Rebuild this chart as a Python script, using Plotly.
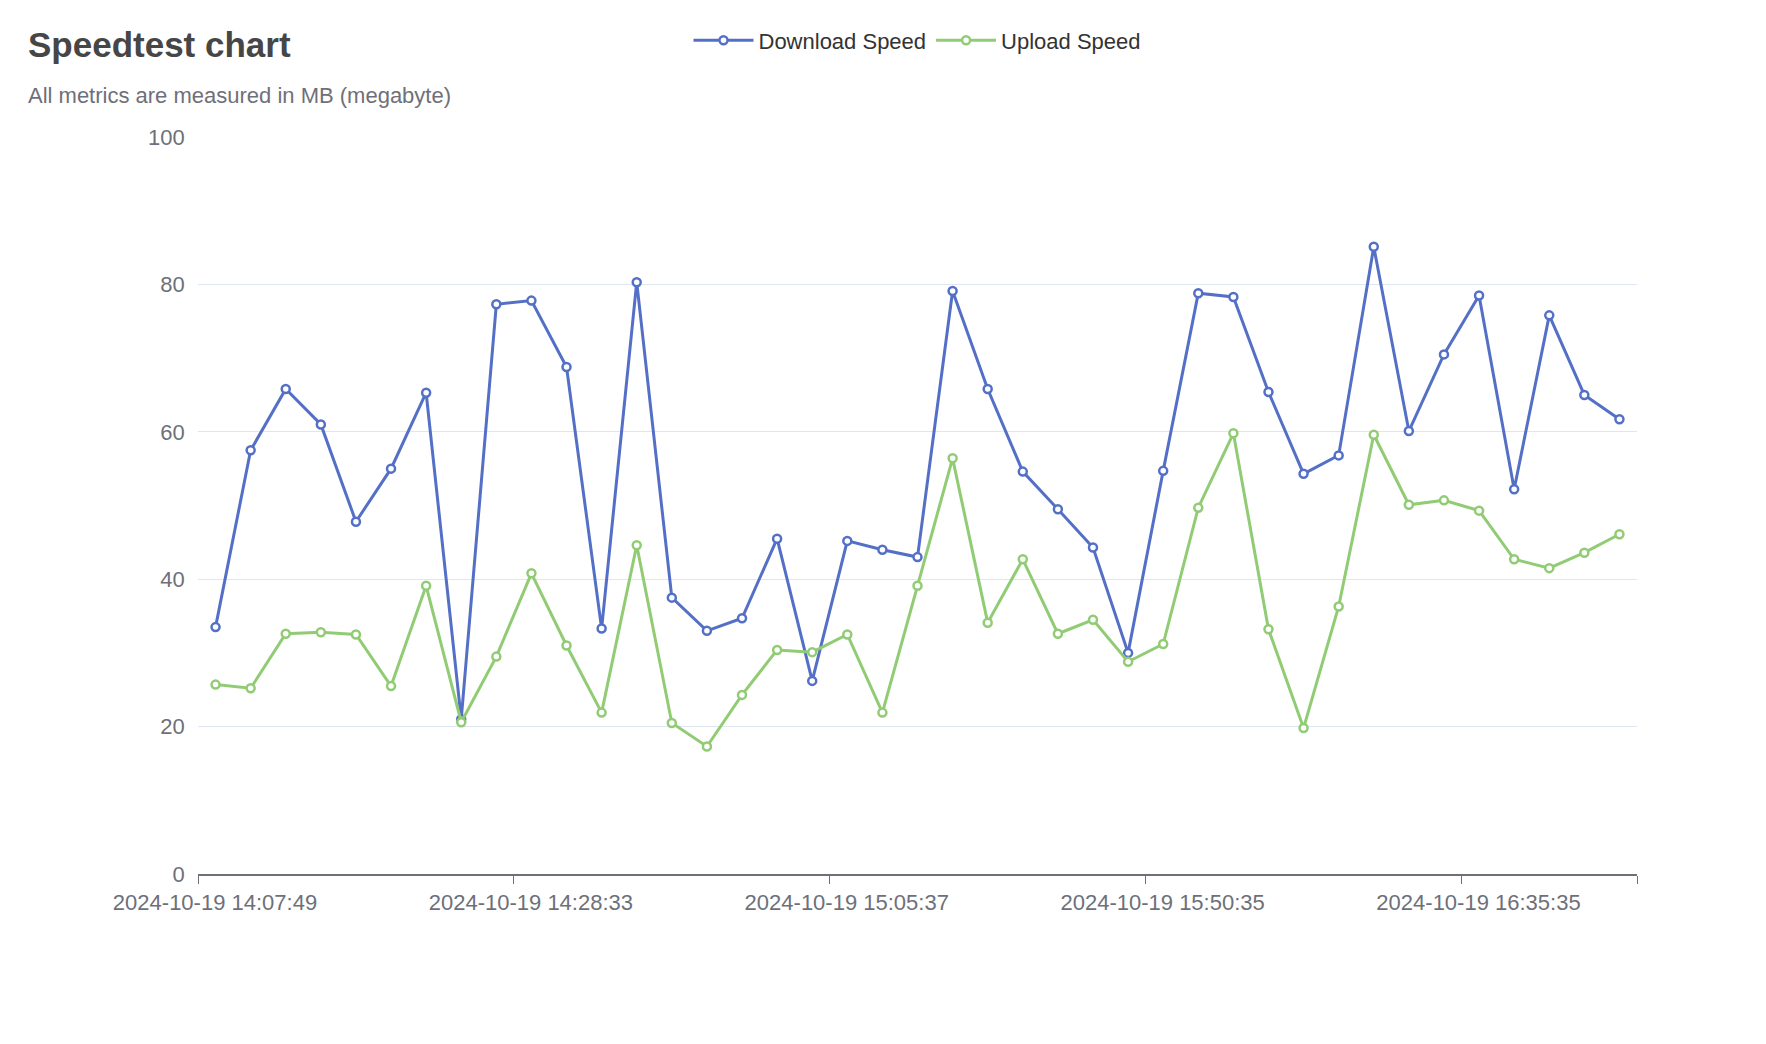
import plotly.graph_objects as go

# timestamps of each speedtest run (category axis)
times = [
    "2024-10-19 14:07:49", "2024-10-19 14:09:12", "2024-10-19 14:11:40", "2024-10-19 14:13:05",
    "2024-10-19 14:15:31", "2024-10-19 14:18:02", "2024-10-19 14:20:27", "2024-10-19 14:22:50",
    "2024-10-19 14:25:44", "2024-10-19 14:28:33", "2024-10-19 14:31:58", "2024-10-19 14:35:20",
    "2024-10-19 14:39:47", "2024-10-19 14:43:09", "2024-10-19 14:47:35", "2024-10-19 14:51:02",
    "2024-10-19 14:55:38", "2024-10-19 15:00:35", "2024-10-19 15:05:37", "2024-10-19 15:10:36",
    "2024-10-19 15:15:35", "2024-10-19 15:20:37", "2024-10-19 15:25:35", "2024-10-19 15:30:36",
    "2024-10-19 15:35:35", "2024-10-19 15:40:37", "2024-10-19 15:45:35", "2024-10-19 15:50:35",
    "2024-10-19 15:55:36", "2024-10-19 16:00:35", "2024-10-19 16:05:37", "2024-10-19 16:10:35",
    "2024-10-19 16:15:36", "2024-10-19 16:20:35", "2024-10-19 16:25:37", "2024-10-19 16:30:35",
    "2024-10-19 16:35:35", "2024-10-19 16:40:36", "2024-10-19 16:45:35", "2024-10-19 16:50:37",
    "2024-10-19 16:55:35",
]

download = [33.5, 57.5, 65.8, 61.0, 47.8, 55.0, 65.3, 21.0, 77.3, 77.8, 68.8, 33.3, 80.3, 37.5,
            33.0, 34.7, 45.5, 26.2, 45.2, 44.0, 43.0, 79.1, 65.8, 54.6, 49.5, 44.3, 30.0, 54.7,
            78.8, 78.3, 65.4, 54.3, 56.8, 85.1, 60.1, 70.5, 78.5, 52.2, 75.8, 65.0, 61.7]

upload = [25.7, 25.2, 32.6, 32.8, 32.5, 25.5, 39.1, 20.6, 29.5, 40.8, 31.0, 21.9, 44.6, 20.5,
          17.3, 24.3, 30.4, 30.1, 32.5, 21.9, 39.1, 56.4, 34.1, 42.7, 32.6, 34.5, 28.8, 31.2,
          49.7, 59.8, 33.2, 19.8, 36.3, 59.6, 50.1, 50.7, 49.3, 42.7, 41.5, 43.6, 46.1]

labelStep = 9  # every 9th category gets a label
tickPos = [i - 0.5 for i in range(0, len(times) + 1, labelStep)] + [len(times) - 0.5]
tickText = [times[i] if i < len(times) else "" for i in range(0, len(times) + 1, labelStep)] + [""]

fig = go.Figure()
for name, vals, color in [("Download Speed", download, "#5470c6"),
                          ("Upload Speed", upload, "#91cc75")]:
    fig.add_trace(go.Scatter(
        x=times, y=vals, name=name, mode="lines+markers",
        line=dict(color=color, width=3),
        marker=dict(symbol="circle", size=8, color="white", line=dict(color=color, width=2.5)),
    ))

fig.update_layout(
    width=1766, height=1044,
    paper_bgcolor="white", plot_bgcolor="white",
    margin=dict(l=190, r=137, t=125, b=178),
    font=dict(family="Liberation Sans, Arial, sans-serif", color="#6e7079", size=18),
    legend=dict(orientation="h", x=0.5, xanchor="center", y=1.131, yanchor="middle",
                font=dict(size=22, color="#333"), itemwidth=60),
    annotations=[
        dict(text="<b>Speedtest chart</b>", xref="paper", yref="paper", x=-0.1195, y=1.1255,
             xanchor="left", yanchor="middle", showarrow=False,
             font=dict(size=35, color="#464646")),
        dict(text="All metrics are measured in MB (megabyte)", xref="paper", yref="paper",
             x=-0.1195, y=1.0567, xanchor="left", yanchor="middle", showarrow=False,
             font=dict(size=22, color="#6e7079")),
    ],
)

fig.update_xaxes(
    type="category", range=[-0.5, len(times) - 0.5],
    tickmode="array", tickvals=tickPos, ticktext=tickText,
    ticklabelshift=17, ticks="outside", ticklen=8, tickcolor="#6e7079",
    showline=True, linecolor="#6e7079", linewidth=1.5, showgrid=False,
    tickfont=dict(size=22),
)
fig.update_yaxes(
    range=[0, 100], dtick=20, showgrid=True, gridcolor="#e0e6f1", zeroline=False,
    tickfont=dict(size=22), ticksuffix="  ",
)

fig.write_html("out.html")
